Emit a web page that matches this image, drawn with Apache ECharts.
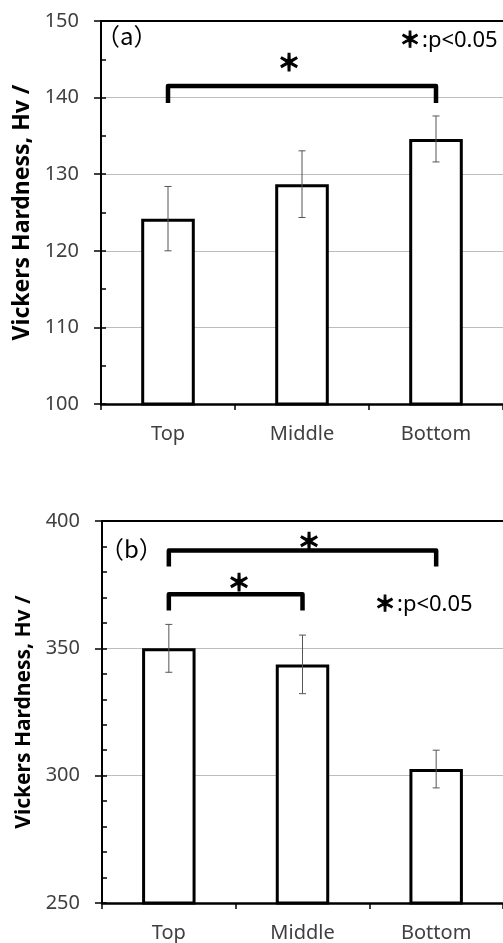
<!DOCTYPE html>
<html>
<head>
<meta charset="utf-8">
<script src="https://cdn.jsdelivr.net/npm/echarts@6/dist/echarts.min.js"></script>
<style>
html,body{margin:0;padding:0;background:#fff;}
#chart{width:503px;height:943px;}
</style>
</head>
<body>
<div id="chart"></div>
<script>
// ---- data ----
const categories = ['Top', 'Middle', 'Bottom'];
const hardnessA = [124.2, 128.7, 134.6];
const errorA = [4.2, 4.35, 3.0];
const hardnessB = [350.0, 343.7, 302.6];
const errorB = [9.4, 11.5, 7.4];
// brackets: [fromIndex, toIndex, barTop, legBottom]
const bracketsA = [[0, 2, 141.5, 139.3]];
const bracketsB = [[0, 2, 388.4, 382.1], [0, 1, 371.2, 364.9]];
const yTicksA = {min: 100, max: 150, major: 10, minor: 5};
const yTicksB = {min: 250, max: 400, major: 50, minor: 10};
const yName = 'Vickers Hardness, Hv /';

const chart = echarts.init(document.getElementById('chart'), null, {renderer: 'canvas'});

const labelFont = 'Noto Sans';
const labelColor = '#404040';

function errData(mean, err) {
  return mean.map((m, i) => [i, m - err[i], m + err[i]]);
}

function errRender(params, api) {
  const x = api.value(0);
  const lo = api.coord([x, api.value(1)]);
  const hi = api.coord([x, api.value(2)]);
  const hw = 3.5;
  const st = {stroke: '#555', lineWidth: 1};
  return {
    type: 'group',
    children: [
      {type: 'line', shape: {x1: lo[0], y1: lo[1], x2: hi[0], y2: hi[1]}, style: st},
      {type: 'line', shape: {x1: lo[0] - hw, y1: lo[1], x2: lo[0] + hw, y2: lo[1]}, style: st},
      {type: 'line', shape: {x1: hi[0] - hw, y1: hi[1], x2: hi[0] + hw, y2: hi[1]}, style: st}
    ]
  };
}

function bracketRender(params, api) {
  const f = api.value(0), t = api.value(1), top = api.value(2), foot = api.value(3);
  const p1 = api.coord([f, foot]);
  const p2 = api.coord([f, top]);
  const p3 = api.coord([t, top]);
  const p4 = api.coord([t, foot]);
  return {
    type: 'polyline',
    shape: {points: [p1, p2, p3, p4]},
    style: {stroke: '#000', lineWidth: 4.5, fill: null, lineJoin: 'round', lineCap: 'butt'}
  };
}

function xAxes(gridIndex) {
  return [
    {
      type: 'category', gridIndex: gridIndex, data: categories, position: 'bottom',
      axisLine: {show: true, lineStyle: {color: '#000', width: 2.5}},
      axisTick: {show: true, alignWithLabel: false, length: 6, lineStyle: {color: '#000', width: 1.5}},
      axisLabel: {margin: 20, color: labelColor, fontFamily: labelFont, fontSize: 20},
      splitLine: {show: false}
    },
    {
      type: 'category', gridIndex: gridIndex, data: categories, position: 'top',
      axisLine: {show: true, lineStyle: {color: '#000', width: 2}},
      axisTick: {show: false}, axisLabel: {show: false}, splitLine: {show: false}
    }
  ];
}

function yAxes(gridIndex, t, nameSize, nameGap) {
  return [
    {
      type: 'value', gridIndex: gridIndex, min: t.min, max: t.max, interval: t.major,
      name: yName, nameLocation: 'middle', nameGap: nameGap,
      nameTextStyle: {fontFamily: labelFont, fontWeight: 'bold', fontSize: nameSize, color: '#000'},
      axisLine: {show: true, lineStyle: {color: '#000', width: 2}},
      axisTick: {show: true, inside: false, length: 7, lineStyle: {color: '#000', width: 1.5}},
      axisLabel: {margin: 22, color: labelColor, fontFamily: labelFont, fontSize: 20},
      splitLine: {show: true, lineStyle: {color: '#bdbdbd', width: 1}}
    },
    {
      type: 'value', gridIndex: gridIndex, min: t.min, max: t.max, interval: t.minor,
      position: 'left', offset: 0,
      axisLine: {show: false},
      axisTick: {show: true, inside: true, length: 5, lineStyle: {color: '#000', width: 1.5}},
      axisLabel: {show: false}, splitLine: {show: false}
    }
  ];
}

function star(x, y) {
  return {type: 'text', x: x, y: y, style: {text: '＊', font: 'bold 23px "Noto Sans CJK JP"', fill: '#000', stroke: '#000', lineWidth: 1.2, align: 'center', verticalAlign: 'middle'}};
}
function legendText(left, top) {
  return [
    {type: 'text', x: left + 9, y: top + 10, style: {text: '＊', font: 'bold 21px "Noto Sans CJK JP"', fill: '#000', stroke: '#000', lineWidth: 1.1, align: 'center', verticalAlign: 'middle'}},
    {type: 'text', left: left + 21, top: top + 1, style: {text: ':p<0.05', font: '22px "Noto Sans"', fill: '#000'}}
  ];
}

const option = {
  animation: false,
  backgroundColor: '#fff',
  grid: [
    {left: 101, top: 21, width: 408, height: 383},
    {left: 102, top: 521, width: 414, height: 385}
  ],
  xAxis: [].concat(xAxes(0), xAxes(1)),
  yAxis: [].concat(yAxes(0, yTicksA, 23, 62), yAxes(1, yTicksB, 21, 63)),
  series: [
    {
      type: 'bar', xAxisIndex: 0, yAxisIndex: 0, data: hardnessA, barWidth: '40%',
      itemStyle: {color: '#fff', borderColor: '#000', borderWidth: 3}, z: 2
    },
    {
      type: 'custom', xAxisIndex: 0, yAxisIndex: 0, data: errData(hardnessA, errorA),
      encode: {x: 0, y: [1, 2]}, renderItem: errRender, z: 5
    },
    {
      type: 'custom', xAxisIndex: 0, yAxisIndex: 0, data: bracketsA,
      encode: {x: [0, 1], y: [2, 3]}, renderItem: bracketRender, z: 5
    },
    {
      type: 'bar', xAxisIndex: 2, yAxisIndex: 2, data: hardnessB, barWidth: '40%',
      itemStyle: {color: '#fff', borderColor: '#000', borderWidth: 3}, z: 2
    },
    {
      type: 'custom', xAxisIndex: 2, yAxisIndex: 2, data: errData(hardnessB, errorB),
      encode: {x: 0, y: [1, 2]}, renderItem: errRender, z: 5
    },
    {
      type: 'custom', xAxisIndex: 2, yAxisIndex: 2, data: bracketsB,
      encode: {x: [0, 1], y: [2, 3]}, renderItem: bracketRender, z: 5
    }
  ],
  graphic: [].concat(
    [{type: 'text', left: 96, top: 24, style: {text: '（a）', font: '24px "Noto Sans CJK JP"', fill: '#000'}}],
    legendText(401, 29),
    [star(289, 62)],
    [{type: 'text', left: 100, top: 537, style: {text: '（b）', font: '24px "Noto Sans CJK JP"', fill: '#000'}}],
    legendText(376, 593),
    [star(309, 541), star(239, 582)]
  )
};

chart.setOption(option);
</script>
</body>
</html>
